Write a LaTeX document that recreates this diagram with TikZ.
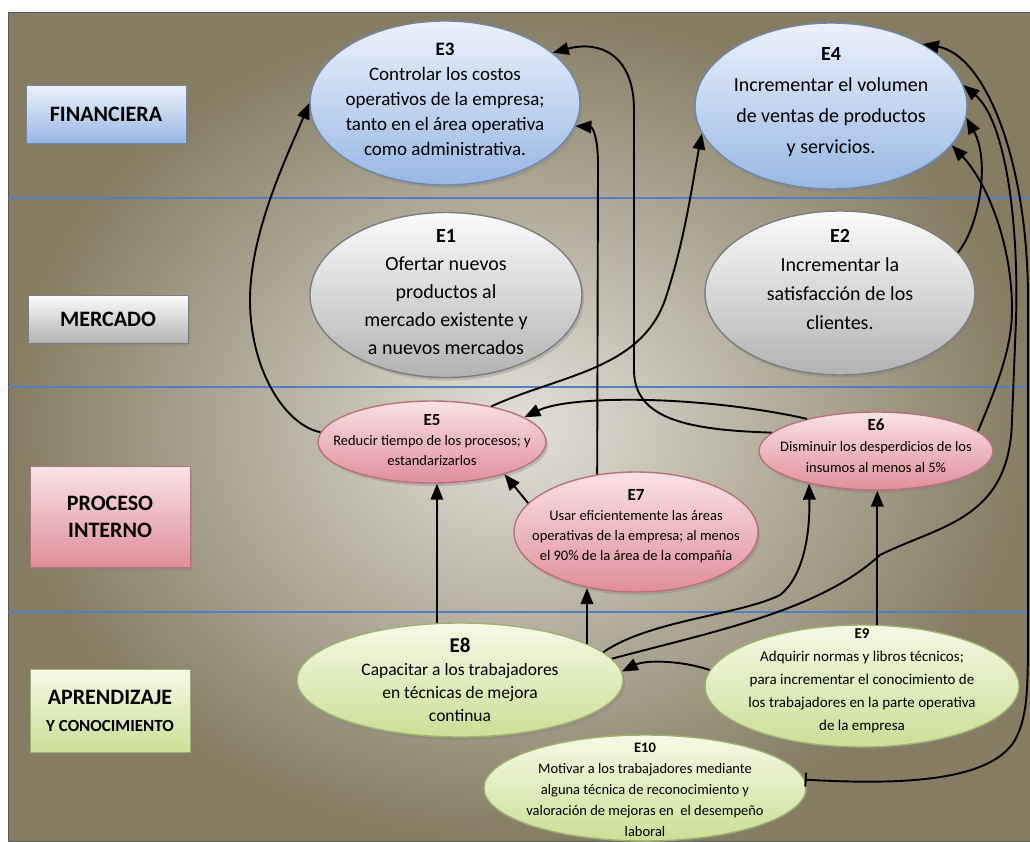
\documentclass[tikz,border=0pt]{standalone}
\usepackage{fontspec}
\setmainfont{Carlito}
\usetikzlibrary{arrows.meta,shapes.geometric,shadows}

\definecolor{fondoIn}{RGB}{226,224,216}
\definecolor{fondoOut}{RGB}{133,124,98}
\definecolor{carril}{RGB}{84,126,195}
\definecolor{finTop}{RGB}{236,242,252}
\definecolor{finBot}{RGB}{152,183,228}
\definecolor{finBorde}{RGB}{112,134,170}
\definecolor{merTop}{RGB}{252,252,252}
\definecolor{merBot}{RGB}{178,178,178}
\definecolor{merBorde}{RGB}{125,125,125}
\definecolor{proTop}{RGB}{250,226,230}
\definecolor{proBot}{RGB}{224,142,154}
\definecolor{proBorde}{RGB}{186,112,122}
\definecolor{aprTop}{RGB}{246,250,230}
\definecolor{aprBot}{RGB}{204,222,150}
\definecolor{aprBorde}{RGB}{160,176,110}

\begin{document}
\begin{tikzpicture}[
  x=1pt, y=-1pt,
  every node/.style={inner sep=0pt},
  carrilLine/.style={draw=carril, line width=1.6pt},
  sombra/.style={drop shadow={opacity=0.35, shadow xshift=2pt, shadow yshift=-3pt}},
  objetivo/.style={ellipse, line width=1.4pt, sombra},
  objFin/.style={objetivo, draw=finBorde, top color=finTop, bottom color=finBot},
  objMer/.style={objetivo, draw=merBorde, top color=merTop, bottom color=merBot},
  objPro/.style={objetivo, draw=proBorde, top color=proTop, bottom color=proBot},
  objApr/.style={objetivo, draw=aprBorde, top color=aprTop, bottom color=aprBot},
  persp/.style={rectangle, minimum width=160pt, line width=0.8pt, align=center,
    font=\bfseries\fontsize{22}{27}\selectfont, sombra},
  perspFin/.style={persp, draw=finBorde, top color=finTop, bottom color=finBot},
  perspMer/.style={persp, draw=merBorde, top color=merTop, bottom color=merBot},
  perspPro/.style={persp, draw=proBorde, top color=proTop, bottom color=proBot},
  perspApr/.style={persp, draw=aprBorde, top color=aprTop, bottom color=aprBot},
  txt/.style={align=center},
  flecha/.style={line width=1.9pt, -{Triangle[length=16pt,width=12.5pt]}}
]
\useasboundingbox (0,0) rectangle (1030,841);
\shade[inner color=fondoIn, outer color=fondoOut, draw=gray!70!black, line width=0.6pt]
  (8,12) rectangle (1030,841);
\foreach \y in {198,387,612}
  \draw[carrilLine] (8,\y) -- (1030,\y);

% perspectivas
\node[perspFin, minimum height=58pt] (finan) at (106,114) {FINANCIERA};
\node[perspMer, minimum height=48pt] (merca) at (108,319) {MERCADO};
\node[perspPro, minimum height=101pt] (proce) at (110,517) {PROCESO\\INTERNO};
\node[perspApr, minimum height=83pt] (apren) at (110,711)
  {APRENDIZAJE\\{\fontsize{17}{20}\selectfont Y CONOCIMIENTO}};

% objetivos
\node[objFin, minimum width=270pt, minimum height=164pt] (e3) at (445,103) {};
\node[txt, font=\fontsize{19}{25}\selectfont] (e3t) at (445,99)
  {\textbf{E3}\\Controlar los costos\\operativos de la empresa;\\tanto en el área operativa\\como administrativa.};
\node[objFin, minimum width=272pt, minimum height=166pt] (e4) at (831,106) {};
\node[txt, font=\fontsize{20}{31}\selectfont] (e4t) at (831,102)
  {\textbf{E4}\\Incrementar el volumen\\de ventas de productos\\y servicios.};

\node[objMer, minimum width=272pt, minimum height=165pt] (e1) at (446,295) {};
\node[txt, font=\fontsize{20}{28}\selectfont] (e1t) at (446,292)
  {\textbf{E1}\\Ofertar nuevos\\productos al\\mercado existente y\\a nuevos mercados};
\node[objMer, minimum width=270pt, minimum height=164pt] (e2) at (840,293) {};
\node[txt, font=\fontsize{20}{29}\selectfont] (e2t) at (840,280)
  {\textbf{E2}\\Incrementar la\\satisfacción de los\\clientes.};

\node[objPro, minimum width=228pt, minimum height=82pt] (e5) at (432,442) {};
\node[txt, font=\fontsize{14.5}{20}\selectfont] (e5t) at (432,440)
  {{\bfseries\fontsize{17}{20}\selectfont E5}\\Reducir tiempo de los procesos; y\\estandarizarlos};
\node[objPro, minimum width=234pt, minimum height=78pt] (e6) at (876,451) {};
\node[txt, font=\fontsize{14.5}{21}\selectfont] (e6t) at (876,446)
  {{\bfseries\fontsize{17}{21}\selectfont E6}\\Disminuir los desperdicios de los\\insumos al menos al 5\%};
\node[objPro, minimum width=244pt, minimum height=120pt] (e7) at (636,532) {};
\node[txt, font=\fontsize{14.5}{20}\selectfont] (e7t) at (636,526)
  {{\bfseries\fontsize{17}{22}\selectfont E7}\\Usar eficientemente las áreas\\operativas de la empresa; al menos\\el 90\% de la área de la compañía};

\node[objApr, minimum width=326pt, minimum height=114pt] (e8) at (460,680) {};
\node[txt, font=\fontsize{17.5}{23}\selectfont] (e8t) at (460,680)
  {{\bfseries\fontsize{21}{25}\selectfont E8}\\Capacitar a los trabajadores\\en técnicas de mejora\\continua};
\node[objApr, minimum width=314pt, minimum height=122pt] (e9) at (862,686) {};
\node[txt, font=\fontsize{15}{23}\selectfont] (e9t) at (862,681)
  {\textbf{E9}\\Adquirir normas y libros técnicos;\\para incrementar el conocimiento de\\los trabajadores en la parte operativa\\de la empresa};
\node[objApr, minimum width=322pt, minimum height=106pt] (e10) at (645,788) {};
\node[txt, font=\fontsize{14.5}{21}\selectfont] (e10t) at (645,790)
  {\textbf{E10}\\Motivar a los trabajadores mediante\\alguna técnica de reconocimiento y\\valoración de mejoras en~ el desempeño\\laboral};

% relaciones causa-efecto
\draw[flecha] (e5.175) .. controls (285,425) and (250,370) .. (250,300)
  .. controls (250,230) and (290,150) .. (e3.west);
\draw[flecha] (e5.31) .. controls (560,375) and (640,370) .. (665,300)
  .. controls (685,240) and (692,185) .. (e4.192);
\draw[flecha] (e7.124) -- (598,165) .. controls (598,135) and (592,127) .. (e3.350);
\draw[flecha] (e6.170) .. controls (690,430) and (634,420) .. (634,370)
  -- (634,110) .. controls (634,55) and (600,40) .. (e3.25);
\draw[flecha] (e6.155) .. controls (700,395) and (570,395) .. (e5.15);
\draw[flecha] (e7.165) -- (e5.336);
\draw[flecha] (e8.112) -- (e8.112 |- e5.south);
\draw[flecha] (e8.16) -- (e8.16 |- e7.230);
\draw[flecha] (e8.11) .. controls (650,620) and (740,615) .. (780,595)
  .. controls (805,575) and (810,530) .. (e6.206);
\draw[flecha] (e9.76) -- (e9.76 |- e6.south);
\draw[flecha] (e9.174) .. controls (680,660) and (645,660) .. (e8.3);
\draw[flecha] (e8.8) .. controls (720,630) and (820,610) .. (880,555)
  .. controls (940,525) and (1010,520) .. (1012,420)
  -- (1016,320) .. controls (1019,220) and (1005,120) .. (e4.9);
\draw[flecha] (e6.11) .. controls (995,390) and (1012,350) .. (1012,310)
  .. controls (1012,240) and (985,180) .. (e4.342);
\draw[flecha] (e2.19) .. controls (980,225) and (990,160) .. (e4.355);
\draw[flecha, {Bar[width=14pt]}-{Triangle[length=16pt,width=12.5pt]}]
  (e10.3) .. controls (900,785) and (990,782) .. (1015,740)
  .. controls (1028,715) and (1028,690) .. (1028,620) -- (1028,300)
  .. controls (1028,160) and (985,55) .. (e4.34);
\end{tikzpicture}
\end{document}
